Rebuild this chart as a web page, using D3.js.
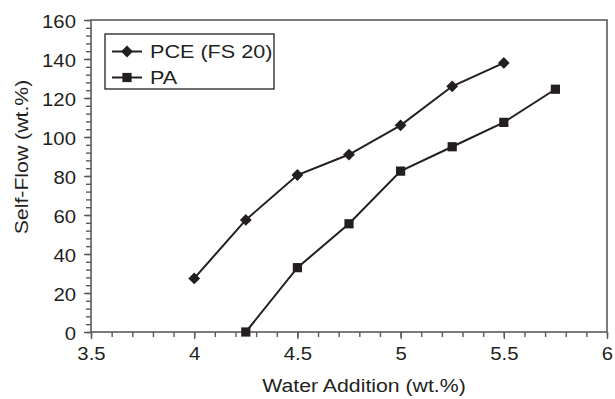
<!DOCTYPE html>
<html>
<head>
    <meta charset="utf-8">
    <script src="https://cdn.jsdelivr.net/npm/d3@7"></script>
    <style>
        * { margin: 0; padding: 0; }
        body { background: #fff; }
        svg { display: block; font-family: "Liberation Sans", Arial, sans-serif; }
    </style>
</head>
<body>
    <svg id="chart" width="615" height="399"></svg>
    <script>
        // data
        var xTicks = [3.5, 4, 4.5, 5, 5.5, 6];
        var yTicks = [0, 20, 40, 60, 80, 100, 120, 140, 160];
        var pceWater = [4, 4.25, 4.5, 4.75, 5, 5.25, 5.5];
        var pceFlow = [27.5, 57.5, 80.5, 91, 106, 126, 138];
        var paWater = [4.25, 4.5, 4.75, 5, 5.25, 5.5, 5.75];
        var paFlow = [0, 33, 55.5, 82.5, 95, 107.5, 124.5];
        var names = ["PCE (FS 20)", "PA"];

        var margin = { top: 20, right: 8, bottom: 67, left: 91 };
        var width = 615 - margin.left - margin.right,
            height = 399 - margin.top - margin.bottom;
        var ink = "#231f20", axisCol = "#5a5a5a";

        var svg = d3.select("#chart");
        var g = svg.append("g")
            .attr("transform", "translate(" + margin.left + "," + margin.top + ")");

        var x = d3.scaleLinear().domain([3.5, 6]).range([0, width]);
        var y = d3.scaleLinear().domain([0, 160]).range([height, 0]);

        // the lettering in the picture is a bit wider than plain Arial
        function widen(k) {
            return function (sel) {
                sel.each(function () {
                    var w = this.getComputedTextLength();
                    d3.select(this).attr("textLength", w * k).attr("lengthAdjust", "spacingAndGlyphs");
                });
            };
        }

        // frame
        g.append("rect")
            .attr("width", width).attr("height", height)
            .attr("fill", "none").attr("stroke", axisCol).attr("stroke-width", 1.6);

        // minor ticks
        g.append("g")
            .attr("transform", "translate(0," + height + ")")
            .call(d3.axisBottom(x).tickValues(d3.range(35, 61).map(function (d) { return d / 10; }))
                .tickSize(5).tickFormat(""))
            .call(function (a) { a.select(".domain").remove(); a.selectAll("line").attr("stroke", axisCol).attr("stroke-width", 1.4); });
        g.append("g")
            .call(d3.axisLeft(y).tickValues(d3.range(0, 161, 4)).tickSize(5).tickFormat(""))
            .call(function (a) { a.select(".domain").remove(); a.selectAll("line").attr("stroke", axisCol).attr("stroke-width", 1.4); });

        // major ticks + labels
        var xAxis = g.append("g")
            .attr("transform", "translate(0," + height + ")")
            .call(d3.axisBottom(x).tickValues(xTicks).tickSize(7).tickPadding(8).tickFormat(d3.format("")));
        var yAxis = g.append("g")
            .call(d3.axisLeft(y).tickValues(yTicks).tickSize(7).tickPadding(8));
        [xAxis, yAxis].forEach(function (a) {
            a.select(".domain").remove();
            a.selectAll("line").attr("stroke", axisCol).attr("stroke-width", 1.4);
            a.selectAll("text").attr("fill", ink).style("font-size", "18.5px")
                .style("font-family", "'Liberation Sans', Arial, sans-serif")
                .call(widen(1.1));
        });
        yAxis.selectAll("text").attr("dy", "0.42em");

        // axis titles
        svg.append("text")
            .attr("x", 364).attr("y", 392)
            .attr("text-anchor", "middle")
            .attr("fill", ink).style("font-size", "18px")
            .text("Water Addition (wt.%)")
            .call(widen(1.18));
        svg.append("text")
            .attr("transform", "translate(28,157) rotate(-90)")
            .attr("text-anchor", "middle")
            .attr("fill", ink).style("font-size", "18px")
            .text("Self-Flow (wt.%)")
            .call(widen(1.18));

        var line = d3.line()
            .x(function (d) { return x(d[0]); })
            .y(function (d) { return y(d[1]); });

        var series = [
            { name: names[0], pts: d3.zip(pceWater, pceFlow), size: 70, turn: 45 },
            { name: names[1], pts: d3.zip(paWater, paFlow), size: 85, turn: 0 }
        ];
        function marker(s) {
            return d3.symbol().type(d3.symbolSquare).size(s.size)();
        }

        series.forEach(function (s) {
            g.append("path")
                .attr("d", line(s.pts))
                .attr("fill", "none").attr("stroke", ink).attr("stroke-width", 2);
            g.selectAll(null)
                .data(s.pts)
                .enter()
                .append("path")
                .attr("d", marker(s))
                .attr("transform", function (d) {
                    return "translate(" + x(d[0]) + "," + y(d[1]) + ") rotate(" + s.turn + ")";
                })
                .attr("fill", ink);
        });

        // legend
        var leg = svg.append("g").attr("transform", "translate(105,34)");
        leg.append("rect")
            .attr("width", 169).attr("height", 55)
            .attr("fill", "#fff").attr("stroke", ink).attr("stroke-width", 1.3);
        series.forEach(function (s, i) {
            var row = leg.append("g").attr("transform", "translate(0," + (17.5 + i * 26) + ")");
            row.append("line")
                .attr("x1", 7).attr("x2", 37)
                .attr("stroke", ink).attr("stroke-width", 2);
            row.append("path")
                .attr("d", marker(s))
                .attr("transform", "translate(22,0) rotate(" + s.turn + ")")
                .attr("fill", ink);
            row.append("text")
                .attr("x", 45).attr("y", 6.5)
                .attr("fill", ink).style("font-size", "18px")
                .text(s.name)
                .call(widen(1.2));
        });
    </script>
</body>
</html>
